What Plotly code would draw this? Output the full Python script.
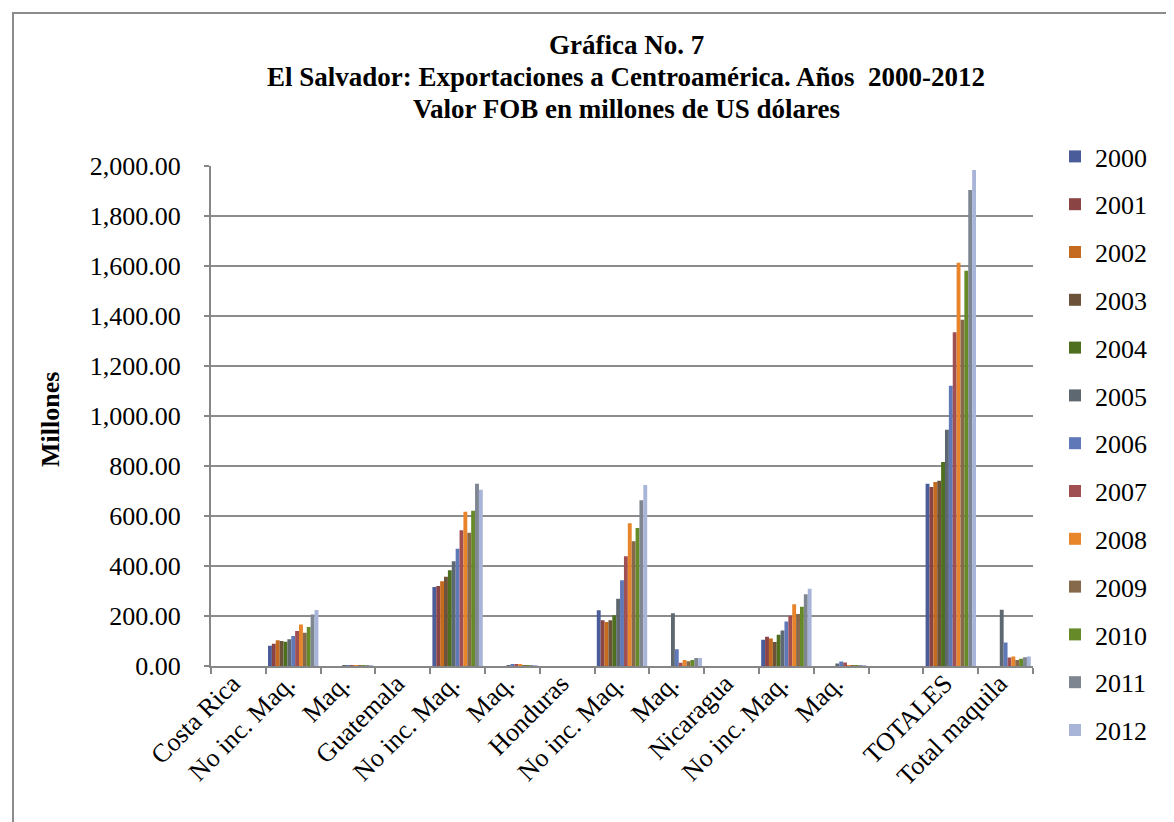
import plotly.graph_objects as go

# ---------------- data ----------------
years = ["2000", "2001", "2002", "2003", "2004", "2005", "2006",
         "2007", "2008", "2009", "2010", "2011", "2012"]

categories = ["Costa Rica", "No inc. Maq.", "Maq.",
              "Guatemala", "No inc. Maq.", "Maq.",
              "Honduras", "No inc. Maq.", "Maq.",
              "Nicaragua", "No inc. Maq.", "Maq.",
              "", "TOTALES", "Total maquila"]

# values per category, one value per year (2000..2012), millions US$
costa_rica = [0] * 13
costa_rica_no_maq = [81, 89, 103, 100, 97, 107, 120, 140, 166, 133, 156, 206, 224]
costa_rica_maq = [0, 0, 0, 0, 0, 2, 3, 2, 2, 1, 1, 1, 1]
guatemala = [0] * 13
guatemala_no_maq = [316, 320, 339, 357, 383, 419, 469, 543, 617, 533, 621, 729, 705]
guatemala_maq = [0, 0, 0, 0, 0, 3, 5, 5, 8, 3, 3, 2, 2]
honduras = [0] * 13
honduras_no_maq = [223, 183, 176, 183, 203, 269, 343, 439, 571, 499, 552, 663, 724]
honduras_maq = [0, 0, 0, 0, 0, 211, 67, 13, 24, 19, 24, 32, 32]
nicaragua = [0] * 13
nicaragua_no_maq = [105, 117, 110, 96, 125, 142, 178, 201, 247, 208, 237, 287, 309]
nicaragua_maq = [0, 0, 0, 0, 0, 10, 18, 14, 4, 2, 2, 1, 1]
blank = [0] * 13
totales = [729, 716, 736, 741, 816, 945, 1121, 1335, 1613, 1385, 1581, 1904, 1984]
total_maquila = [0, 0, 0, 0, 0, 225, 94, 34, 38, 24, 29, 35, 38]

rows = [costa_rica, costa_rica_no_maq, costa_rica_maq,
        guatemala, guatemala_no_maq, guatemala_maq,
        honduras, honduras_no_maq, honduras_maq,
        nicaragua, nicaragua_no_maq, nicaragua_maq,
        blank, totales, total_maquila]

colors = ["#4A5C9A", "#8A4443", "#C46B20", "#6C5238", "#4E6F1F", "#5E6870",
          "#5F78B8", "#A04F52", "#E8852A", "#86684A", "#678A29", "#7D8691",
          "#A9B5D8"]

title_lines = ["Gráfica No. 7",
               "El Salvador: Exportaciones a Centroamérica. Años \u00a02000-2012",
               "Valor FOB en millones de US dólares"]
y_title = "Millones"

# ---------------- layout geometry ----------------
W, H = 1174, 822
L, R, T, B = 203, 149, 158, 164
PW, PH = W - L - R, H - T - B
FONT = "Liberation Serif"


def px_x(p):
    return (p - L) / PW


def px_y(p):
    return (H - B - p) / PH


# unique category keys (zero-width spaces keep repeated labels distinct)
keys = [c + "\u200b" * i for i, c in enumerate(categories)]

fig = go.Figure()
for j, yr in enumerate(years):
    fig.add_trace(go.Bar(
        x=keys,
        y=[row[j] for row in rows],
        name=yr,
        legendgroup=yr,
        marker=dict(color=colors[j], line=dict(width=0)),
    ))

title_annotations = [
    dict(
        text="<b>%s</b>" % t,
        x=px_x(618), xref="paper", xanchor="center",
        y=px_y(37 + 32 * i), yref="paper", yanchor="middle",
        showarrow=False,
        font=dict(family=FONT, size=27, color="black"),
    )
    for i, t in enumerate(title_lines)
]

fig.update_layout(
    width=W, height=H,
    autosize=False,
    margin=dict(l=L, r=R, t=T, b=B),
    paper_bgcolor="white",
    plot_bgcolor="white",
    barmode="group",
    bargap=0.08,
    bargroupgap=0,
    font=dict(family=FONT, size=26, color="black"),
    legend=dict(
        x=px_x(1047), xanchor="left",
        y=px_y(125), yanchor="top",
        font=dict(family=FONT, size=26, color="black"),
        tracegroupgap=11,
        bgcolor="rgba(0,0,0,0)",
        maxheight=780,
    ),
    xaxis=dict(
        type="category",
        categoryorder="array", categoryarray=keys,
        tickson="boundaries",
        ticks="outside", ticklen=6, tickcolor="#868686", tickwidth=1.5,
        showline=True, linecolor="#868686", linewidth=2,
        showgrid=False,
        tickangle=-45,
        ticklabelstandoff=-10,
        ticklabelshift=-6,
        tickfont=dict(family=FONT, size=26, color="black"),
        range=[-0.5, 14.5],
    ),
    yaxis=dict(
        range=[0, 2000], dtick=200, tick0=0,
        tickformat=",.2f",
        ticks="outside", ticklen=5, tickcolor="#868686", tickwidth=1.5,
        showline=True, linecolor="#868686", linewidth=2,
        showgrid=True, gridcolor="#8C8C8C", gridwidth=2,
        zeroline=False,
        ticklabelstandoff=18,
        tickfont=dict(family=FONT, size=26, color="black"),
    ),
    annotations=title_annotations + [
        dict(
            text="<b>%s</b>" % y_title, textangle=-90,
            x=px_x(42), xref="paper", xanchor="center",
            y=px_y(412), yref="paper", yanchor="middle",
            showarrow=False,
            font=dict(family=FONT, size=26, color="black"),
        ),
    ],
    shapes=[dict(
        type="rect", xref="paper", yref="paper",
        x0=px_x(5), x1=px_x(1170), y0=px_y(817), y1=px_y(5),
        line=dict(color="#8C8C8C", width=2),
        fillcolor="rgba(0,0,0,0)", layer="below",
    )],
)

fig.write_html("out.html")
